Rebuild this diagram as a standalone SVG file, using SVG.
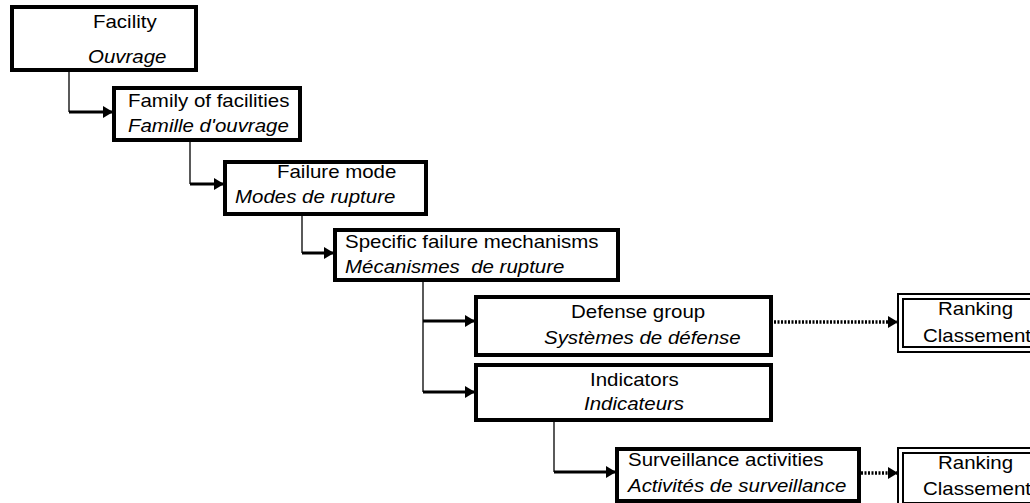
<svg xmlns="http://www.w3.org/2000/svg" width="1030" height="503" viewBox="0 0 1030 503">
  <style>
    text { font-family: "Liberation Sans", Arial, sans-serif; font-size: 18.6px; fill: #000; white-space: pre; }
    .it { font-style: italic; }
    .box { fill: #fff; stroke: #000; stroke-width: 4; }
    .dbl { fill: #fff; stroke: #000; stroke-width: 2; }
    .stem { fill: none; stroke: #000; stroke-width: 1.3; }
    .feed { fill: none; stroke: #000; stroke-width: 3; marker-end: url(#head); }
    .dot { fill: none; stroke: #000; stroke-width: 3.5; stroke-dasharray: 2 1.5; marker-end: url(#head); }
  </style>
  <defs>
    <marker id="head" markerUnits="userSpaceOnUse" markerWidth="10" markerHeight="12" refX="10" refY="6" orient="auto">
      <path d="M0,0 L10,6 L0,12 z" fill="#000"/>
    </marker>
  </defs>

  <rect width="1030" height="503" fill="#fff"/>

  <g id="connectors">
    <path class="stem" d="M69,72 V112"/>
    <path class="feed" d="M69,112 H113"/>
    <path class="stem" d="M190,142 V184"/>
    <path class="feed" d="M190,184 H224"/>
    <path class="stem" d="M302,216 V253"/>
    <path class="feed" d="M302,253 H334"/>
    <path class="stem" d="M423,282 V392"/>
    <path class="feed" d="M423,321 H475"/>
    <path class="feed" d="M423,392 H475"/>
    <path class="stem" d="M554,422 V472"/>
    <path class="feed" d="M554,472 H616"/>
    <path class="dot" d="M774,322 H898"/>
    <path class="dot" d="M861,473 H898"/>
  </g>

  <!-- labels use a slightly widened Arial face: scale(1.1,1) -->
  <g id="facility">
    <rect class="box" x="12" y="7" width="184" height="63"/>
    <text transform="translate(93,28) scale(1.1,1)">Facility</text>
    <text class="it" transform="translate(88,63) scale(1.1,1)">Ouvrage</text>
  </g>

  <g id="family">
    <rect class="box" x="114" y="88" width="186" height="52"/>
    <text transform="translate(128,107) scale(1.1,1)">Family of facilities</text>
    <text class="it" transform="translate(128,132) scale(1.1,1)">Famille d'ouvrage</text>
  </g>

  <g id="failure-mode">
    <rect class="box" x="225" y="162" width="201" height="52"/>
    <text transform="translate(277,178) scale(1.1,1)">Failure mode</text>
    <text class="it" transform="translate(235,203) scale(1.1,1)">Modes de rupture</text>
  </g>

  <g id="mechanisms">
    <rect class="box" x="335" y="230" width="283" height="50"/>
    <text transform="translate(345,248) scale(1.1,1)">Specific failure mechanisms</text>
    <text class="it" transform="translate(345,273) scale(1.1,1)">Mécanismes  de rupture</text>
  </g>

  <g id="defense">
    <rect class="box" x="476" y="297" width="295" height="58"/>
    <text transform="translate(571,318) scale(1.1,1)">Defense group</text>
    <text class="it" transform="translate(544,344) scale(1.1,1)">Systèmes de défense</text>
  </g>

  <g id="ranking-defense">
    <rect class="dbl" x="898" y="294" width="140" height="58"/>
    <rect class="dbl" x="903" y="299" width="130" height="48"/>
    <text transform="translate(938,315) scale(1.1,1)">Ranking</text>
    <text transform="translate(923,342) scale(1.1,1)">Classement</text>
  </g>

  <g id="indicators">
    <rect class="box" x="476" y="365" width="295" height="55"/>
    <text transform="translate(590,386) scale(1.1,1)">Indicators</text>
    <text class="it" transform="translate(584,410) scale(1.1,1)">Indicateurs</text>
  </g>

  <g id="surveillance">
    <rect class="box" x="617" y="449" width="242" height="52"/>
    <text transform="translate(628,466) scale(1.1,1)">Surveillance activities</text>
    <text class="it" transform="translate(628,492) scale(1.1,1)">Activités de surveillance</text>
  </g>

  <g id="ranking-surveillance">
    <rect class="dbl" x="898" y="448" width="140" height="60"/>
    <rect class="dbl" x="903" y="453" width="130" height="50"/>
    <text transform="translate(938,469) scale(1.1,1)">Ranking</text>
    <text transform="translate(923,495) scale(1.1,1)">Classement</text>
  </g>
</svg>
